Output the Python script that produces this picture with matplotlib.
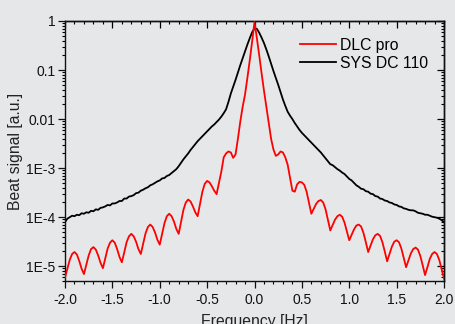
import numpy as np
import matplotlib
matplotlib.use("Agg")
import matplotlib.pyplot as plt
from matplotlib.ticker import FixedLocator, FixedFormatter, MultipleLocator, LogLocator, NullFormatter

plt.rcParams['font.family'] = ['Liberation Sans', 'DejaVu Sans']

# sampling grid (Hz), 0.025 Hz spacing
freq = np.linspace(-2.0, 2.0, 161)

# DLC pro beat signal, log10 of value
dlc_log10 = [
    -5.23, -5.05, -4.87, -4.75, -4.71, -4.76, -4.89, -5.05, -5.16, -4.97,
    -4.78, -4.65, -4.61, -4.66, -4.78, -4.93, -5.04, -4.84, -4.64, -4.52,
    -4.47, -4.52, -4.65, -4.81, -4.92, -4.72, -4.51, -4.39, -4.34, -4.39,
    -4.50, -4.65, -4.75, -4.54, -4.33, -4.20, -4.15, -4.20, -4.31, -4.46,
    -4.56, -4.34, -4.12, -3.98, -3.93, -3.98, -4.09, -4.24, -4.34, -4.10,
    -3.85, -3.70, -3.64, -3.68, -3.78, -3.90, -3.98, -3.73, -3.48, -3.32,
    -3.26, -3.29, -3.37, -3.46, -3.53, -3.30, -3.07, -2.78, -2.70, -2.66,
    -2.68, -2.79, -2.72, -2.40, -2.05, -1.75, -1.50, -1.16, -0.80, -0.42,
    -0.02,
    -0.35, -0.70, -1.07, -1.42, -1.75, -2.08, -2.40, -2.62, -2.75, -2.72,
    -2.66, -2.68, -2.78, -2.93, -3.20, -3.46, -3.48, -3.33, -3.28, -3.29,
    -3.34, -3.48, -3.71, -3.93, -3.83, -3.73, -3.67, -3.65, -3.70, -3.84,
    -4.05, -4.27, -4.16, -4.05, -3.98, -3.95, -3.99, -4.11, -4.29, -4.47,
    -4.36, -4.25, -4.17, -4.15, -4.19, -4.32, -4.51, -4.71, -4.58, -4.45,
    -4.37, -4.34, -4.38, -4.51, -4.70, -4.90, -4.75, -4.60, -4.50, -4.47,
    -4.51, -4.64, -4.83, -5.02, -4.88, -4.74, -4.65, -4.62, -4.66, -4.79,
    -4.98, -5.18, -5.02, -4.85, -4.75, -4.71, -4.75, -4.87, -5.06, -5.25,
]

# SYS DC 110 beat signal, log10 of value
sys_log10 = [
    -4.10, -4.03, -4.00, -3.97, -3.98, -3.95, -3.96, -3.92, -3.93, -3.90,
    -3.91, -3.87, -3.88, -3.84, -3.85, -3.81, -3.80, -3.78, -3.75, -3.76,
    -3.72, -3.72, -3.70, -3.67, -3.67, -3.62, -3.62, -3.58, -3.57, -3.55,
    -3.51, -3.50, -3.46, -3.44, -3.41, -3.39, -3.35, -3.33, -3.30, -3.27,
    -3.25, -3.21, -3.20, -3.16, -3.14, -3.10, -3.06, -3.02, -2.96, -2.89,
    -2.82, -2.76, -2.70, -2.63, -2.57, -2.51, -2.45, -2.40, -2.35, -2.30,
    -2.25, -2.20, -2.15, -2.11, -2.06, -2.01, -1.95, -1.88, -1.80, -1.65,
    -1.48, -1.34, -1.20, -1.05, -0.90, -0.76, -0.62, -0.48, -0.35, -0.23,
    -0.15,
    -0.16, -0.24, -0.34, -0.45, -0.58, -0.72, -0.87, -1.02, -1.16, -1.30,
    -1.45, -1.60, -1.73, -1.85, -1.93, -2.00, -2.08, -2.15, -2.22, -2.28,
    -2.33, -2.38, -2.43, -2.48, -2.53, -2.58, -2.63, -2.68, -2.74, -2.80,
    -2.86, -2.92, -2.94, -2.98, -3.02, -3.05, -3.09, -3.12, -3.17, -3.22,
    -3.25, -3.30, -3.35, -3.38, -3.42, -3.43, -3.47, -3.48, -3.52, -3.53,
    -3.57, -3.58, -3.62, -3.63, -3.66, -3.67, -3.70, -3.71, -3.74, -3.75,
    -3.78, -3.79, -3.82, -3.83, -3.85, -3.86, -3.86, -3.88, -3.91, -3.92,
    -3.93, -3.95, -3.95, -3.97, -3.99, -4.00, -4.01, -4.03, -4.06, -4.10,
]

series_names = ["DLC pro", "SYS DC 110"]
series_colors = ["#ff0000", "#000000"]
ytick_values = [1e-5, 1e-4, 1e-3, 1e-2, 1e-1, 1]
ytick_labels = ["1E-5", "1E-4", "1E-3", "0.01", "0.1", "1"]
xtick_values = [-2.0, -1.5, -1.0, -0.5, 0.0, 0.5, 1.0, 1.5, 2.0]
xtick_labels = ["-2.0", "-1.5", "-1.0", "-0.5", "0.0", "0.5", "1.0", "1.5", "2.0"]

bg = "#e6e7e9"
fig = plt.figure(figsize=(4.55, 3.24), dpi=100, facecolor=bg)
ax = fig.add_axes([65/455, 1-281/324, (444-65)/455, (281-21)/324], facecolor=bg)

dlc = 10.0 ** np.array(dlc_log10)
sysdc = 10.0 ** np.array(sys_log10)
ax.plot(freq, dlc, color=series_colors[0], lw=1.3, label=series_names[0], zorder=3)
ax.plot(freq, sysdc, color=series_colors[1], lw=1.3, label=series_names[1], zorder=2)

ax.set_yscale('log')
ax.set_xlim(-2.0, 2.0)
ax.set_ylim(5e-6, 1.0)

ax.yaxis.set_major_locator(FixedLocator(ytick_values))
ax.yaxis.set_major_formatter(FixedFormatter(ytick_labels))
ax.yaxis.set_minor_locator(LogLocator(base=10, subs=np.arange(2, 10), numticks=20))
ax.yaxis.set_minor_formatter(NullFormatter())
ax.xaxis.set_major_locator(FixedLocator(xtick_values))
ax.xaxis.set_major_formatter(FixedFormatter(xtick_labels))
ax.xaxis.set_minor_locator(MultipleLocator(0.1))

ax.tick_params(axis='both', which='major', direction='out', length=5, width=0.9,
               labelsize=10, colors='#111111', pad=2)
ax.tick_params(axis='both', which='minor', direction='out', length=2.5, width=0.8)
ax.tick_params(axis='x', which='major', pad=3.5)

for s in ax.spines.values():
    s.set_linewidth(1.0)
    s.set_color('#111111')

# inward ticks on top and right
top = ax.secondary_xaxis('top')
top.xaxis.set_major_locator(FixedLocator(xtick_values))
top.xaxis.set_minor_locator(MultipleLocator(0.1))
top.tick_params(axis='x', which='major', direction='in', length=5, width=0.9, labeltop=False)
top.tick_params(axis='x', which='minor', direction='in', length=2.5, width=0.8)
top.spines['top'].set_linewidth(1.0)

right = ax.secondary_yaxis('right')
right.yaxis.set_major_locator(FixedLocator(ytick_values))
right.yaxis.set_minor_locator(LogLocator(base=10, subs=np.arange(2, 10), numticks=20))
right.yaxis.set_minor_formatter(NullFormatter())
right.tick_params(axis='y', which='major', direction='in', length=5, width=0.9, labelright=False)
right.tick_params(axis='y', which='minor', direction='in', length=2.5, width=0.8)
right.spines['right'].set_linewidth(1.0)

ax.set_xlabel("Frequency [Hz]", fontsize=11.3, color='#222222', labelpad=5)
ax.set_ylabel("Beat signal [a.u.]", fontsize=11.3, color='#222222', labelpad=2)

leg = ax.legend(loc='upper right', bbox_to_anchor=(0.975, 0.96), frameon=False,
                fontsize=11.3, handlelength=2.3, handletextpad=0.25,
                labelspacing=0.2, borderaxespad=0)

fig.savefig("out.png", dpi=100, facecolor=bg)
